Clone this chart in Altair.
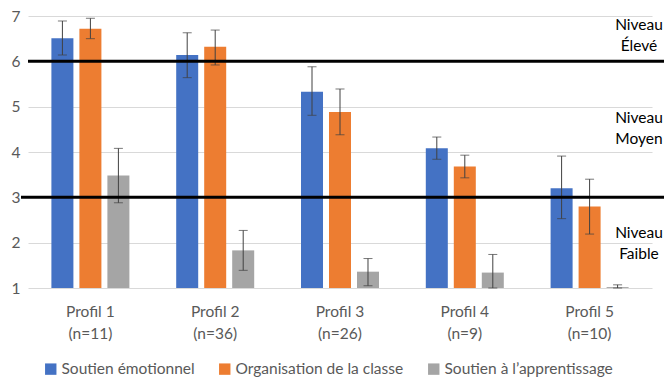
import altair as alt
import pandas as pd

profiles = ["Profil 1|(n=11)", "Profil 2|(n=36)", "Profil 3|(n=26)", "Profil 4|(n=9)", "Profil 5|(n=10)"]
series = ["Soutien émotionnel", "Organisation de la classe", "Soutien à l’apprentissage"]
colors = ["#4472C4", "#ED7D31", "#A5A5A5"]

mean_emo = [6.51, 6.14, 5.33, 4.08, 3.20]
low_emo = [6.14, 5.64, 4.81, 3.84, 2.53]
high_emo = [6.89, 6.63, 5.88, 4.33, 3.91]

mean_org = [6.72, 6.32, 4.88, 3.68, 2.80]
low_org = [6.50, 5.92, 4.38, 3.43, 2.19]
high_org = [6.95, 6.69, 5.39, 3.93, 3.40]

mean_app = [3.48, 1.83, 1.36, 1.34, 1.02]
low_app = [2.88, 1.39, 1.05, 1.00, 1.00]
high_app = [4.08, 2.27, 1.65, 1.74, 1.07]

thresholds = [6, 3]
level_labels = ["Niveau\nÉlevé", "Niveau\nMoyen", "Niveau\nFaible"]
level_pos = [6.8, 4.76, 2.22]

rows = []
for s, m, lo, hi in [
    (series[0], mean_emo, low_emo, high_emo),
    (series[1], mean_org, low_org, high_org),
    (series[2], mean_app, low_app, high_app),
]:
    for p, mv, lv, hv in zip(profiles, m, lo, hi):
        rows.append({"profil": p, "serie": s, "moyenne": mv, "bas": lv, "haut": hv, "base": 1})
df = pd.DataFrame(rows)

FONT = "Lato"
W, H = 624, 272

x_enc = alt.X("profil:N", sort=profiles, title=None,
              scale=alt.Scale(paddingInner=0.375, paddingOuter=0.1875),
              axis=alt.Axis(labelExpr="split(datum.label, '|')", labelFontSize=15.5,
                            labelColor="#595959", labelFont=FONT, ticks=False, domain=False,
                            labelPadding=16, labelLineHeight=22, labelAngle=0))
xo_enc = alt.XOffset("serie:N", sort=series, scale=alt.Scale(paddingInner=0.214))
y_scale = alt.Scale(domain=[1, 7], zero=False, nice=False)

base = alt.Chart(df)

bars = base.mark_bar().encode(
    x=x_enc,
    xOffset=xo_enc,
    y=alt.Y("moyenne:Q", scale=y_scale, title=None,
            axis=alt.Axis(values=[1, 2, 3, 4, 5, 6, 7], labelFontSize=15.5, labelColor="#595959",
                          labelFont=FONT, ticks=False, domain=False, labelPadding=8,
                          gridColor="#D9D9D9", gridWidth=1)),
    y2="base:Q",
    color=alt.Color("serie:N", sort=series, scale=alt.Scale(domain=series, range=colors),
                    legend=alt.Legend(title=None, orient="none", direction="horizontal",
                                      legendX=15, legendY=345, symbolType="square",
                                      symbolSize=130, symbolStrokeWidth=0, labelFontSize=15.5,
                                      labelFont=FONT, labelColor="#595959", columnPadding=22,
                                      labelOffset=3, labelLimit=0, symbolOpacity=1)),
)

err = base.mark_rule(color="#404040", strokeWidth=1).encode(
    x=alt.X("profil:N", sort=profiles),
    xOffset=alt.XOffset("serie:N", sort=series),
    y=alt.Y("bas:Q", scale=y_scale),
    y2="haut:Q",
)
cap_hi = base.mark_tick(color="#404040", thickness=1, size=9).encode(
    x=alt.X("profil:N", sort=profiles),
    xOffset=alt.XOffset("serie:N", sort=series),
    y=alt.Y("haut:Q", scale=y_scale),
)
cap_lo = base.mark_tick(color="#404040", thickness=1, size=9).encode(
    x=alt.X("profil:N", sort=profiles),
    xOffset=alt.XOffset("serie:N", sort=series),
    y=alt.Y("bas:Q", scale=y_scale),
)

tdf = pd.DataFrame({"seuil": thresholds, "x0": [0, -7], "x1": [W + 12, W + 14]})
lines = alt.Chart(tdf).mark_rule(color="black", strokeWidth=3).encode(
    y=alt.Y("seuil:Q", scale=y_scale),
    x=alt.X("x0:Q", scale=None),
    x2="x1:Q",
)

ldf = pd.DataFrame({"label": level_labels, "pos": level_pos})
texts = alt.Chart(ldf).mark_text(lineBreak="\n", lineHeight=21, fontSize=15.5, font=FONT,
                                 color="black", align="center", baseline="middle").encode(
    y=alt.Y("pos:Q", scale=y_scale),
    x=alt.value(611),
    text="label:N",
)

chart = alt.layer(bars, err, cap_hi, cap_lo, lines, texts).resolve_scale(x="shared").properties(
    width=W, height=H,
    padding={"left": 20, "top": 8, "right": 12, "bottom": 92},
    autosize=alt.AutoSizeParams(type="none"),
).configure_view(stroke=None)

chart.save("out.html", embed_options={"renderer": "svg", "actions": False})
